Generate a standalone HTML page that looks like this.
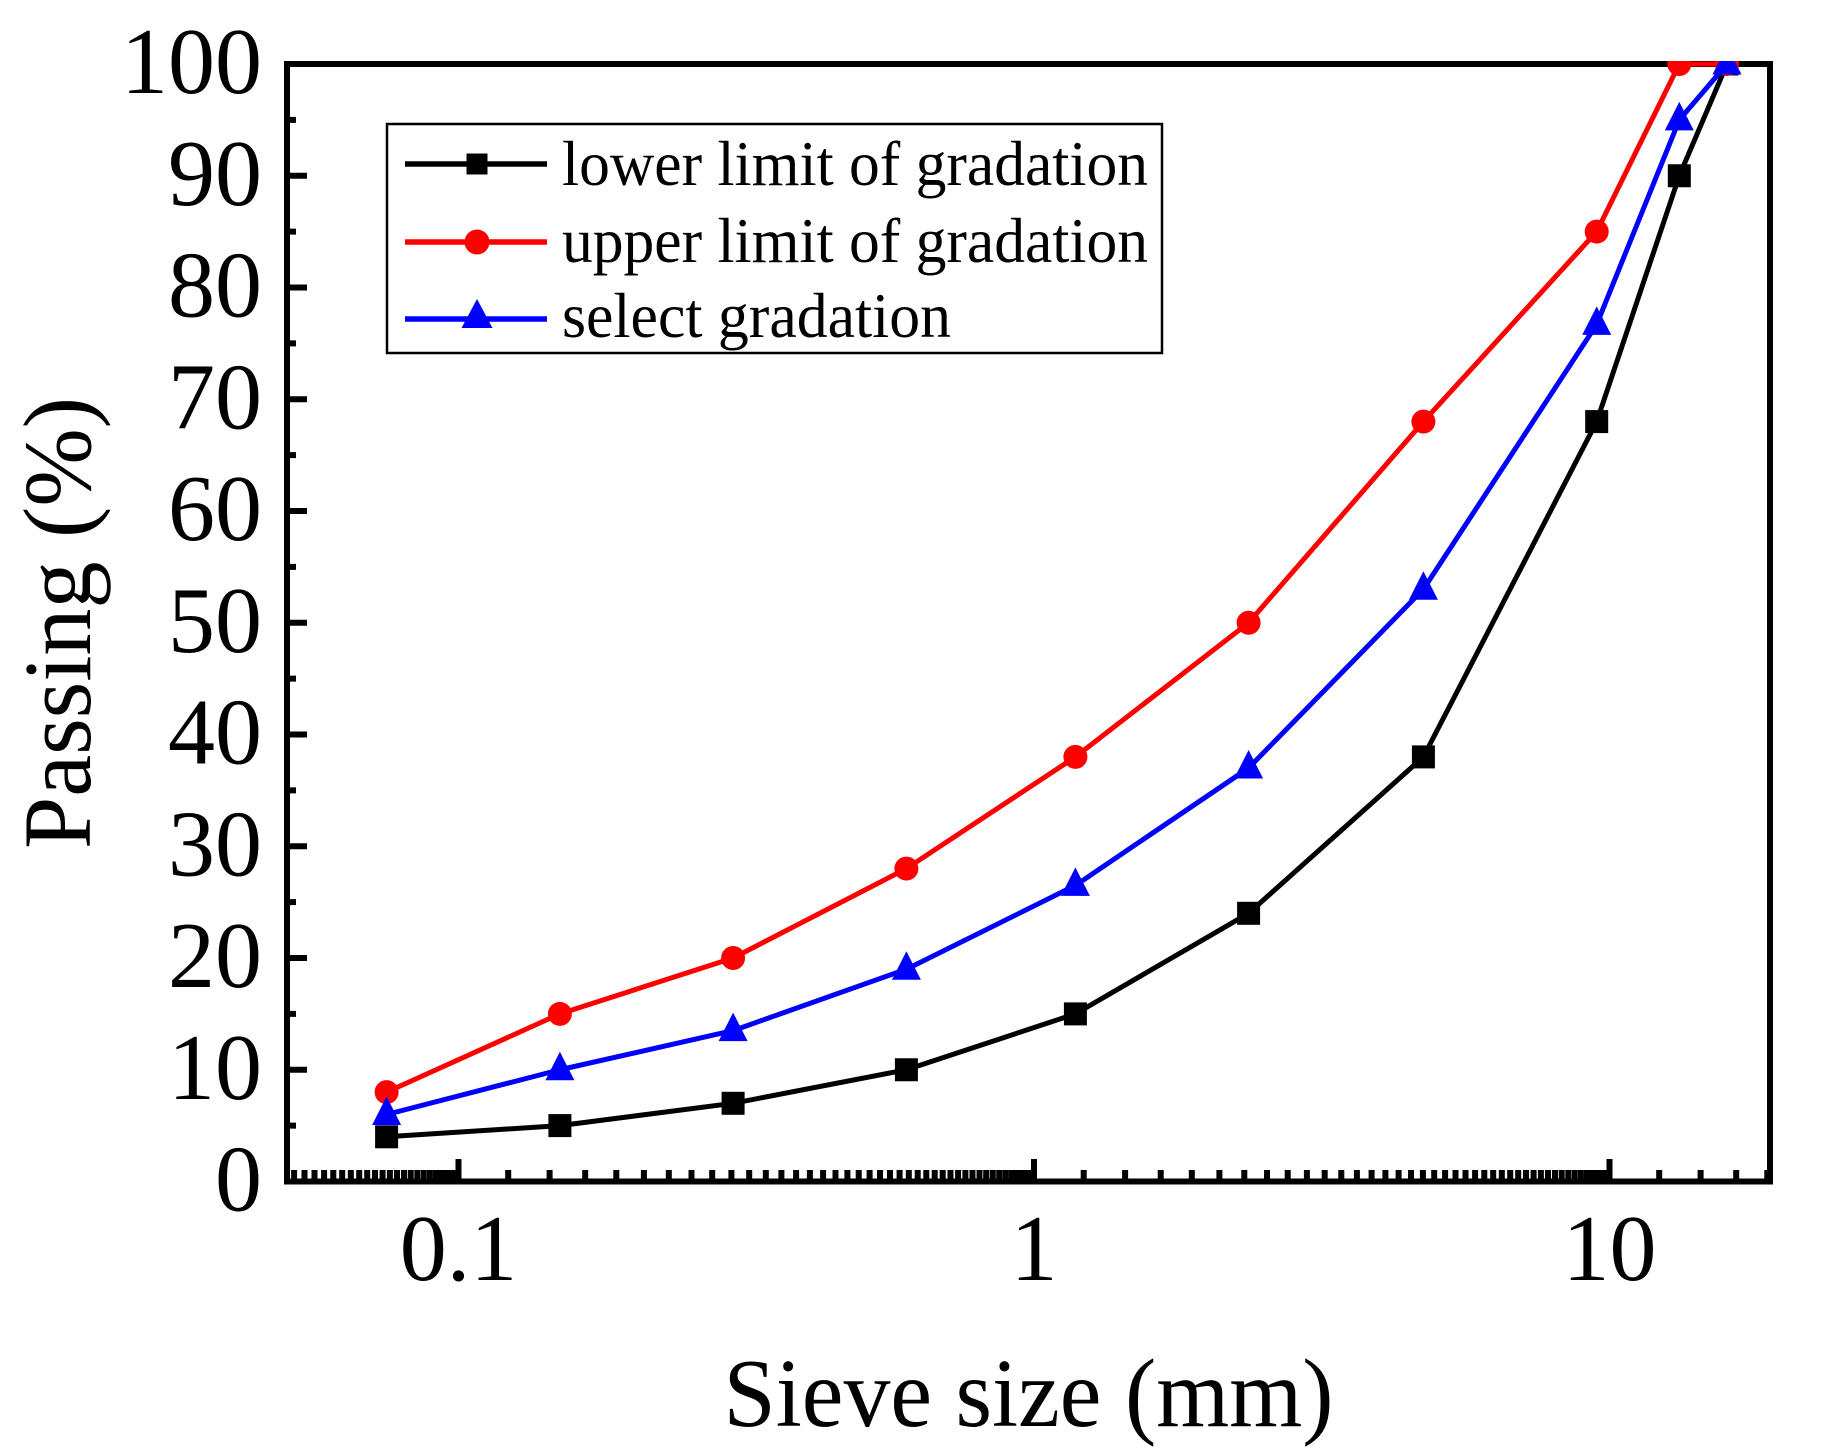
<!DOCTYPE html>
<html>
<head>
<meta charset="utf-8">
<style>
  html, body { margin: 0; padding: 0; background: #fff; }
  svg { display: block; }
  text { font-family: "Liberation Serif", "Times New Roman", serif; fill: #000; }
</style>
</head>
<body>
<svg width="1835" height="1450" viewBox="0 0 1835 1450" xmlns="http://www.w3.org/2000/svg">
  <defs>
    <clipPath id="plotclip"><rect x="284" y="61" width="1489" height="1124"/></clipPath>
  </defs>
  <rect x="0" y="0" width="1835" height="1450" fill="#fff"/>

  <!-- frame -->
  <rect x="287" y="64" width="1483" height="1117.5" fill="none" stroke="#000" stroke-width="6" stroke-linejoin="miter"/>

  <!-- y ticks -->
  <g stroke="#000" stroke-width="6" fill="none">
    <path d="M287 1069.75H307M287 958H307M287 846.25H307M287 734.5H307M287 622.75H307M287 511H307M287 399.25H307M287 287.5H307M287 175.75H307"/>
    <path d="M287 1125.6H296M287 1013.9H296M287 902.1H296M287 790.4H296M287 678.6H296M287 566.9H296M287 455.1H296M287 343.4H296M287 231.6H296M287 119.9H296"/>
  </g>

  <!-- x ticks -->
  <g stroke="#000" stroke-width="6" fill="none">
    <path d="M458.5 1181.5V1159M1034 1181.5V1159M1609.5 1181.5V1159"/>
    <path d="M294.1 1181.5V1170M304.5 1181.5V1170M314.5 1181.5V1170M324.1 1181.5V1170M333.3 1181.5V1170M342.2 1181.5V1170M350.8 1181.5V1170M359.2 1181.5V1170M367.2 1181.5V1170M375 1181.5V1170M382.6 1181.5V1170M389.9 1181.5V1170M397 1181.5V1170M404 1181.5V1170M410.7 1181.5V1170M417.3 1181.5V1170M423.7 1181.5V1170M429.9 1181.5V1170M436 1181.5V1170M442 1181.5V1170M447.8 1181.5V1170M453.5 1181.5V1170"/>
    <path d="M508.2 1181.5V1170M549.6 1181.5V1170M585.2 1181.5V1170M616.3 1181.5V1170M643.9 1181.5V1170M668.8 1181.5V1170M691.5 1181.5V1170M712.2 1181.5V1170M731.4 1181.5V1170M749.2 1181.5V1170M765.8 1181.5V1170M781.4 1181.5V1170M796.1 1181.5V1170M809.9 1181.5V1170M823.1 1181.5V1170M835.5 1181.5V1170M847.4 1181.5V1170M858.7 1181.5V1170M869.6 1181.5V1170M880 1181.5V1170M890 1181.5V1170M899.6 1181.5V1170M908.8 1181.5V1170M917.7 1181.5V1170M926.3 1181.5V1170M934.7 1181.5V1170M942.7 1181.5V1170M950.5 1181.5V1170M958.1 1181.5V1170M965.4 1181.5V1170M972.5 1181.5V1170M979.5 1181.5V1170M986.2 1181.5V1170M992.8 1181.5V1170M999.2 1181.5V1170M1005.4 1181.5V1170M1011.5 1181.5V1170M1017.5 1181.5V1170M1023.3 1181.5V1170M1029 1181.5V1170"/>
    <path d="M1083.7 1181.5V1170M1125.1 1181.5V1170M1160.7 1181.5V1170M1191.8 1181.5V1170M1219.4 1181.5V1170M1244.3 1181.5V1170M1267 1181.5V1170M1287.7 1181.5V1170M1306.9 1181.5V1170M1324.7 1181.5V1170M1341.3 1181.5V1170M1356.9 1181.5V1170M1371.6 1181.5V1170M1385.4 1181.5V1170M1398.6 1181.5V1170M1411 1181.5V1170M1422.9 1181.5V1170M1434.2 1181.5V1170M1445.1 1181.5V1170M1455.5 1181.5V1170M1465.5 1181.5V1170M1475.1 1181.5V1170M1484.3 1181.5V1170M1493.2 1181.5V1170M1501.8 1181.5V1170M1510.2 1181.5V1170M1518.2 1181.5V1170M1526 1181.5V1170M1533.6 1181.5V1170M1540.9 1181.5V1170M1548 1181.5V1170M1555 1181.5V1170M1561.7 1181.5V1170M1568.3 1181.5V1170M1574.7 1181.5V1170M1580.9 1181.5V1170M1587 1181.5V1170M1593 1181.5V1170M1598.8 1181.5V1170M1604.5 1181.5V1170"/>
    <path d="M1659.2 1181.5V1170M1700.6 1181.5V1170M1736.2 1181.5V1170M1767.3 1181.5V1170"/>
  </g>

  <!-- y tick labels -->
  <g font-size="94" text-anchor="end">
    <text x="262" y="93">100</text>
    <text x="262" y="204.75">90</text>
    <text x="262" y="316.5">80</text>
    <text x="262" y="428.25">70</text>
    <text x="262" y="540">60</text>
    <text x="262" y="651.75">50</text>
    <text x="262" y="763.5">40</text>
    <text x="262" y="875.25">30</text>
    <text x="262" y="987">20</text>
    <text x="262" y="1098.75">10</text>
    <text x="262" y="1210.5">0</text>
  </g>

  <!-- x tick labels -->
  <g font-size="94" text-anchor="middle">
    <text x="458.5" y="1280">0.1</text>
    <text x="1034" y="1280">1</text>
    <text x="1609.5" y="1280">10</text>
  </g>

  <!-- axis titles -->
  <text x="1028.5" y="1426" font-size="97" text-anchor="middle" textLength="610" lengthAdjust="spacingAndGlyphs">Sieve size (mm)</text>
  <text transform="translate(90,623) rotate(-90)" font-size="96" text-anchor="middle" textLength="452" lengthAdjust="spacingAndGlyphs">Passing (%)</text>

  <!-- data -->
  <g clip-path="url(#plotclip)">
    <!-- lower limit (black) -->
    <polyline fill="none" stroke="#000" stroke-width="5" stroke-linejoin="round"
      points="386.6,1136.8 559.9,1125.6 733.1,1103.3 906.4,1069.75 1075.4,1013.9 1248.6,913.3 1423.4,756.9 1596.7,421.6 1679.3,175.75 1727.0,64"/>
    <g fill="#000">
      <rect x="375.1" y="1125.3" width="23" height="23"/>
      <rect x="548.4" y="1114.1" width="23" height="23"/>
      <rect x="721.6" y="1091.8" width="23" height="23"/>
      <rect x="894.9" y="1058.25" width="23" height="23"/>
      <rect x="1063.9" y="1002.4" width="23" height="23"/>
      <rect x="1237.1" y="901.8" width="23" height="23"/>
      <rect x="1411.9" y="745.4" width="23" height="23"/>
      <rect x="1585.2" y="410.1" width="23" height="23"/>
      <rect x="1667.8" y="164.25" width="23" height="23"/>
      <rect x="1715.5" y="52.5" width="23" height="23"/>
    </g>

    <!-- upper limit (red) -->
    <polyline fill="none" stroke="#ff0000" stroke-width="5" stroke-linejoin="round"
      points="386.6,1092.1 559.9,1013.9 733.1,958 906.4,868.6 1075.4,756.9 1248.6,622.75 1423.4,421.6 1596.7,231.6 1679.3,64 1727.0,64"/>
    <g fill="#ff0000">
      <circle cx="386.6" cy="1092.1" r="12"/>
      <circle cx="559.9" cy="1013.9" r="12"/>
      <circle cx="733.1" cy="958" r="12"/>
      <circle cx="906.4" cy="868.6" r="12"/>
      <circle cx="1075.4" cy="756.9" r="12"/>
      <circle cx="1248.6" cy="622.75" r="12"/>
      <circle cx="1423.4" cy="421.6" r="12"/>
      <circle cx="1596.7" cy="231.6" r="12"/>
      <circle cx="1679.3" cy="64" r="12"/>
      <circle cx="1727.0" cy="64" r="12"/>
    </g>

    <!-- select gradation (blue) -->
    <polyline fill="none" stroke="#0000ff" stroke-width="5" stroke-linejoin="round"
      points="386.6,1114.5 559.9,1069.75 733.1,1030.6 906.4,969.2 1075.4,885.4 1248.6,768 1423.4,589.2 1596.7,324.4 1679.3,119.9 1727.0,64"/>
    <g fill="#0000ff">
      <polygon points="386.6,1096.5 372.1,1125 401.1,1125"/>
      <polygon points="559.9,1051.75 545.4,1080.25 574.4,1080.25"/>
      <polygon points="733.1,1012.6 718.6,1041.1 747.6,1041.1"/>
      <polygon points="906.4,951.2 891.9,979.7 920.9,979.7"/>
      <polygon points="1075.4,867.4 1060.9,895.9 1089.9,895.9"/>
      <polygon points="1248.6,750 1234.1,778.5 1263.1,778.5"/>
      <polygon points="1423.4,571.2 1408.9,599.7 1437.9,599.7"/>
      <polygon points="1596.7,306.4 1582.2,334.9 1611.2,334.9"/>
      <polygon points="1679.3,101.9 1664.8,130.4 1693.8,130.4"/>
      <polygon points="1727.0,46 1712.5,74.5 1741.5,74.5"/>
    </g>
  </g>

  <!-- legend -->
  <rect x="387" y="124" width="775" height="229" fill="#fff" stroke="#000" stroke-width="2.5"/>
  <line x1="405" y1="164" x2="547" y2="164" stroke="#000" stroke-width="5.5"/>
  <rect x="466.5" y="153.5" width="21" height="21" fill="#000"/>
  <line x1="405" y1="242" x2="547" y2="242" stroke="#ff0000" stroke-width="5.5"/>
  <circle cx="477" cy="242" r="12.5" fill="#ff0000"/>
  <line x1="405" y1="319" x2="547" y2="319" stroke="#0000ff" stroke-width="5.5"/>
  <polygon points="477,299 461.5,328 492.5,328" fill="#0000ff"/>

  <g font-size="63">
    <text x="562" y="185" textLength="586" lengthAdjust="spacingAndGlyphs">lower limit of gradation</text>
    <text x="562" y="262" textLength="586" lengthAdjust="spacingAndGlyphs">upper limit of gradation</text>
    <text x="562" y="337" textLength="389" lengthAdjust="spacingAndGlyphs">select gradation</text>
  </g>
</svg>
</body>
</html>
